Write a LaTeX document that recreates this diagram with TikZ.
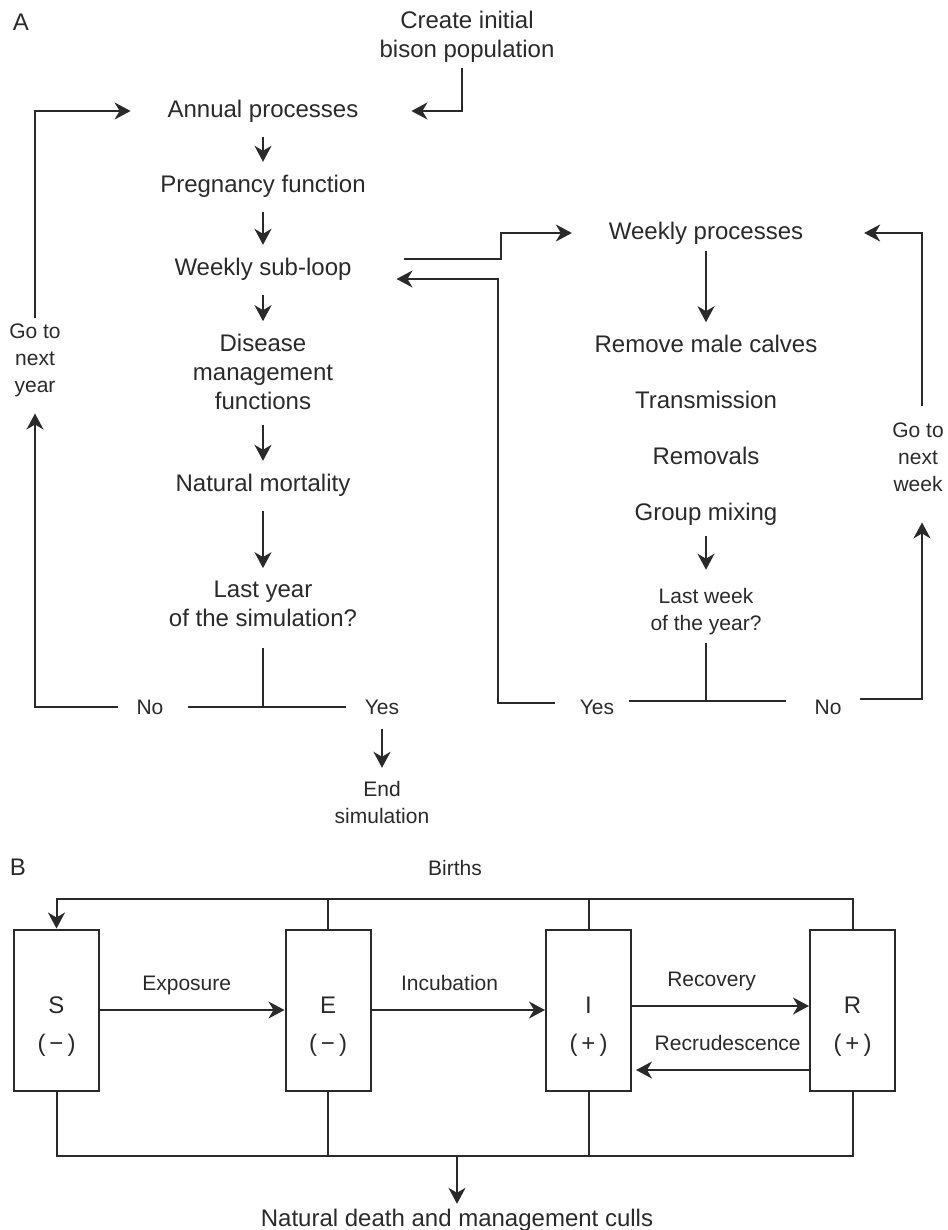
\documentclass[tikz,border=0pt]{standalone}
\usepackage{fontspec}
\setmainfont{Liberation Sans}
\usepackage{tikz}
\usetikzlibrary{positioning,arrows.meta}
\definecolor{ink}{HTML}{2A2A2A}

\begin{document}
\begin{tikzpicture}[
  x=0.5pt, y=-0.5pt,
  >={Stealth[length=8pt,width=8.5pt,inset=2.5pt]},
  color=ink, line width=1pt,
  every node/.style={inner sep=2pt},
  big/.style={font=\fontsize{12}{14.5}\selectfont, align=center},
  small/.style={font=\fontsize{10.5}{13.5}\selectfont, align=center},
  flow/.style={->, shorten <=5pt, shorten >=4pt},
  comp/.style={draw, minimum width=42.5pt, minimum height=80.5pt, inner sep=0pt},
  rate/.style={small, above=5pt, text height=7.5pt, text depth=2.2pt}
]
\useasboundingbox (0,0) rectangle (947,1230);

% A: annual loop
\node[big] (lblA) at (21,22) {A};
\node[big] (create) at (467,37) {Create initial\\bison population};
\node[big] (annual) at (263,111) {Annual processes};
\node[big] (preg) at (263,186) {Pregnancy function};
\node[big] (subloop) at (263,269) {Weekly sub-loop};
\node[big] (disease) at (263,372) {Disease\\management\\functions};
\node[big] (mort) at (263,485) {Natural mortality};
\node[big] (lastyear) at (263,604) {Last year\\of the simulation?};
\node[small] (noY) at (150,707) {No};
\node[small] (yesY) at (382,707) {Yes};
\node[small] (endsim) at (382,802) {End\\simulation};
\node[small] (goyear) at (35,360) {Go to\\next\\year};

% A: weekly loop
\node[big] (weekly) at (706,233) {Weekly processes};
\node[big] (remove) at (706,344) {Remove male calves};
\node[big] (trans) at (706,400) {Transmission};
\node[big] (removals) at (706,456) {Removals};
\node[big] (mixing) at (706,514) {Group mixing};
\node[small] (lastweek) at (706,612) {Last week\\of the year?};
\node[small] (yesW) at (597,707) {Yes};
\node[small] (noW) at (828,707) {No};
\node[small] (goweek) at (918,457) {Go to\\next\\week};
\coordinate (wkfork) at (706,701);

\draw[->] ([xshift=-2.5pt]create.south) |- ([xshift=24pt]annual.east);
\draw[->] (goyear.north) |- ([xshift=-16pt]annual.west);
\draw[flow] (annual) -- (preg);
\draw[flow] (preg) -- (subloop);
\draw[flow] (subloop) -- (disease);
\draw[flow] (disease) -- (mort);
\draw[flow] (mort) -- (lastyear);
\draw ([yshift=-8pt]lastyear.south) -- (lastyear.south |- noY);
\draw ([xshift=10pt]noY.east) -- ([xshift=-7pt]yesY.west);
\draw[->] ([xshift=-7pt]noY.west) -| ([yshift=-6pt]goyear.south);
\draw[flow] (yesY) -- (endsim);

\draw[->] ([xshift=24pt,yshift=5pt]subloop.east) -- ++(97,0) |- ([xshift=-16pt]weekly.west);
\draw[flow, shorten <=1pt] (weekly) -- (remove);
\draw[flow, shorten <=3pt, shorten >=7pt] (mixing) -- (lastweek);
\draw ([yshift=-1.5pt]lastweek.south) -- (wkfork);
\draw ([xshift=5pt,yshift=3pt]yesW.east) -- ([xshift=-12pt,yshift=3pt]noW.west);
\draw[->] ([xshift=-10pt,yshift=2pt]yesW.west) -- ++(-57,0) |- ([xshift=20pt,yshift=-5pt]subloop.east);
\draw[->] ([xshift=7pt,yshift=4pt]noW.east) -| ([xshift=2pt,yshift=-13pt]goweek.south);
\draw[->] ([xshift=2pt,yshift=6pt]goweek.north) |- ([xshift=28pt]weekly.east);

% B: compartments
\node[big] (lblB) at (18,867) {B};
\node[small] (births) at (455,868) {Births};
\node[comp] (S) at (56.5,1010) {};
\node[comp] (E) at (328,1010) {};
\node[comp] (I) at (588.5,1010) {};
\node[comp] (R) at (852.5,1010) {};
\node[big] (Stext) at ([yshift=-8.5pt]S.center) {S\\[4.5pt](\,−\,)};
\node[big] (Etext) at ([yshift=-8.5pt]E.center) {E\\[4.5pt](\,−\,)};
\node[big] (Itext) at ([yshift=-8.5pt]I.center) {I\\[4.5pt](\,+\,)};
\node[big] (Rtext) at ([yshift=-8.5pt]R.center) {R\\[4.5pt](\,+\,)};
\node[big] (culls) at (457,1220) {Natural death and management culls};
\coordinate (birthline) at (455,899);
\coordinate (deathline) at (457,1156);

\draw[->] (R.north) |- (birthline) -| (S.north);
\draw (E.north) -- (E.north |- birthline);
\draw (I.north) -- (I.north |- birthline);
\draw (S.south) |- (deathline) -| (R.south);
\draw (E.south) -- (E.south |- deathline);
\draw (I.south) -- (I.south |- deathline);
\draw[->] (deathline) -- (culls);

\draw[->] (S) -- node[rate, pos=0.47] {Exposure} (E);
\draw[->] (E) -- node[rate, pos=0.45] {Incubation} (I);
\draw[->] ([yshift=2pt]I.east) -- node[rate, pos=0.45] {Recovery} ([yshift=2pt]R.west);
\draw[->] ([yshift=-30pt]R.west) -- node[rate, pos=0.47] {Recrudescence} ([xshift=2pt,yshift=-30pt]I.east);
\end{tikzpicture}
\end{document}
